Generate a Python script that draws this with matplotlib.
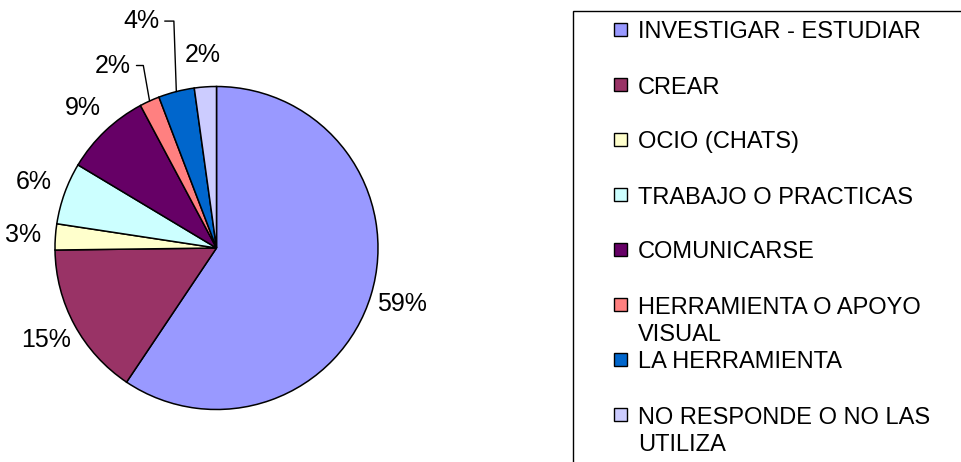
import numpy as np
import matplotlib.pyplot as plt
from matplotlib.patches import Rectangle

plt.rcParams['font.family'] = ['Liberation Sans', 'DejaVu Sans']

categorias = ['INVESTIGAR - ESTUDIAR', 'CREAR', 'OCIO (CHATS)', 'TRABAJO O PRACTICAS',
              'COMUNICARSE', 'HERRAMIENTA O APOYO\nVISUAL', 'LA HERRAMIENTA',
              'NO RESPONDE O NO LAS\nUTILIZA']
valores = [59.4, 15.4, 2.6, 6.2, 8.6, 2.0, 3.6, 2.2]
colores = ['#9999FF', '#993366', '#FFFFCC', '#CCFFFF', '#660066', '#FF8080', '#0066CC', '#CCCCFF']
etiquetas = [str(int(round(v))) + '%' for v in valores]

W, H = 962, 462
fig = plt.figure(figsize=(W/100, H/100), dpi=100)

# pie placed in pixels
cx, cy, r = 216.5, 248, 161.5
ax = fig.add_axes([(cx-r)/W, (H-cy-r)/H, 2*r/W, 2*r/H])
wedges, _ = ax.pie(valores, colors=colores, startangle=90, counterclock=False,
                   wedgeprops=dict(edgecolor='black', linewidth=1.1))
ax.set_xlim(-1, 1)
ax.set_ylim(-1, 1)
ax.set_aspect('equal')

# labels with leader lines: index -> (x text right edge, y, angleB)
con_linea = {5: (-0.53, 1.13, 100), 6: (-0.355, 1.405, 92)}

for i, w in enumerate(wedges):
    mid = np.deg2rad((w.theta1 + w.theta2) / 2)
    if i in con_linea:
        tx, ty, angB = con_linea[i]
        ax.annotate(etiquetas[i], xy=(np.cos(mid), np.sin(mid)), xytext=(tx, ty),
                    ha='right', va='center', fontsize=18,
                    arrowprops=dict(arrowstyle='-', color='black', lw=1.0,
                                    relpos=(1, 0.5), shrinkA=2, shrinkB=0,
                                    connectionstyle='angle,angleA=0,angleB=%d,rad=0' % angB))
    else:
        ax.text(1.2*np.cos(mid), 1.2*np.sin(mid), etiquetas[i],
                ha='center', va='center', fontsize=18)

# legend box (runs off the canvas like the original)
fig.patches.append(Rectangle((573/W, -0.1), 1.0, 1.1 - 11/H, transform=fig.transFigure,
                             facecolor='none', edgecolor='black', linewidth=1.0))

for i, (cat, col) in enumerate(zip(categorias, colores)):
    yc = 29.5 + 55*i
    fig.patches.append(Rectangle((614/W, 1 - (yc+6.5)/H), 13/W, 13/H,
                                 transform=fig.transFigure, facecolor=col,
                                 edgecolor='black', linewidth=1.0))
    fig.text(638/W, 1 - (yc-8)/H, cat, ha='left', va='top', fontsize=17,
             linespacing=1.3)

fig.savefig('out.png', dpi=100)
